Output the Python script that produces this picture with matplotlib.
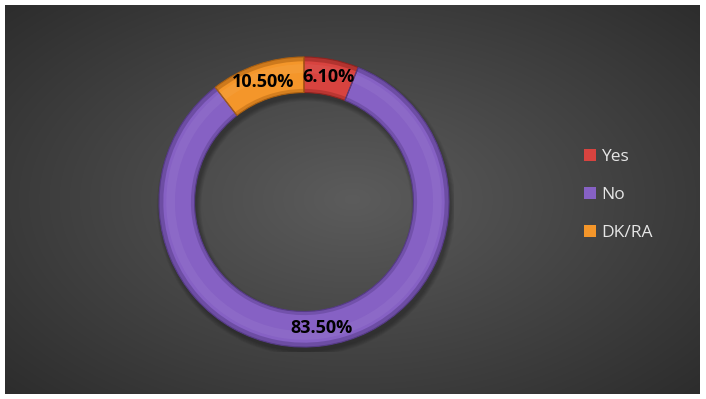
import matplotlib.pyplot as plt
import numpy as np
from matplotlib.patches import Wedge

# Survey answers
labels = ['Yes', 'No', 'DK/RA']
values = [6.10, 83.50, 10.50]
colors = ['#d8433f', '#8661c4', '#f4962a']
edge_colors = ['#8e2420', '#553a86', '#a85e10']

W, H = 706, 399
fig = plt.figure(figsize=(W / 100, H / 100), dpi=100)
fig.patch.set_facecolor('white')

# Dark radial gradient backdrop with a thin white border
bg = fig.add_axes([5 / W, 5 / H, 695 / W, 389 / H])
bg.set_axis_off()
gx, gy = np.meshgrid(np.linspace(-1, 1, 400), np.linspace(-1, 1, 240))
dist = np.sqrt((gx * 0.95) ** 2 + (gy * 0.9) ** 2)
shade = np.clip(1 - dist / 1.35, 0, 1)
lo, hi = np.array([0.17, 0.17, 0.17]), np.array([0.36, 0.36, 0.36])
img = lo + (hi - lo) * shade[..., None] ** 1.0
bg.imshow(img, extent=[0, 1, 0, 1], aspect='auto', interpolation='bicubic')
bg.set_xlim(0, 1)
bg.set_ylim(0, 1)

# Doughnut axes: 1 data unit = 145 px
cx, cy, side = 304, H - 202, 300
ax = fig.add_axes([(cx - side / 2) / W, (cy - side / 2) / H, side / W, side / H])
ax.set_axis_off()

ring = 0.245

# soft drop shadow under the ring
for k in range(6):
    ax.add_patch(Wedge((0.015, -0.03), 1.0 + k * 0.006, 0, 360, width=ring + k * 0.012,
                       facecolor='black', edgecolor='none', alpha=0.05))

wedges, _ = ax.pie(values, colors=colors, startangle=90, counterclock=False,
                   radius=1.0, wedgeprops=dict(width=ring, edgecolor='none'))

# bevel: darker rims and a faint highlight band along each segment
for w, ec in zip(wedges, edge_colors):
    t1, t2 = w.theta1, w.theta2
    ax.add_patch(Wedge((0, 0), 1.0, t1, t2, width=0.03, facecolor=ec, alpha=0.5, edgecolor='none'))
    ax.add_patch(Wedge((0, 0), 1.0 - ring + 0.025, t1, t2, width=0.025, facecolor=ec, alpha=0.4, edgecolor='none'))
    ax.add_patch(Wedge((0, 0), 1.0 - 0.05, t1, t2, width=0.06, facecolor='white', alpha=0.05, edgecolor='none'))
    ax.add_patch(Wedge((0, 0), 1.0, t1, t2, width=ring, facecolor='none', edgecolor=ec, linewidth=0.8))

lim = (side / 2) / 145
ax.set_xlim(-lim, lim)
ax.set_ylim(-lim, lim)
ax.set_aspect('equal')

# value labels at the middle of the ring
mid_r = 1.0 - ring / 2
for w, v in zip(wedges, values):
    ang = np.deg2rad((w.theta1 + w.theta2) / 2)
    ax.text(mid_r * np.cos(ang), mid_r * np.sin(ang), f'{v:.2f}%',
            ha='center', va='center', fontsize=13, fontweight='bold',
            family='Open Sans', color='black')

leg = fig.legend(wedges, labels, loc='upper left', bbox_to_anchor=(0.815, 0.648),
                 frameon=False, labelcolor='#e6e6e6',
                 handlelength=0.7, handleheight=0.7, handletextpad=0.3,
                 labelspacing=1.25, borderpad=0, prop=dict(family='Open Sans', size=12.5))

fig.savefig('out.png', dpi=100, facecolor=fig.get_facecolor())
